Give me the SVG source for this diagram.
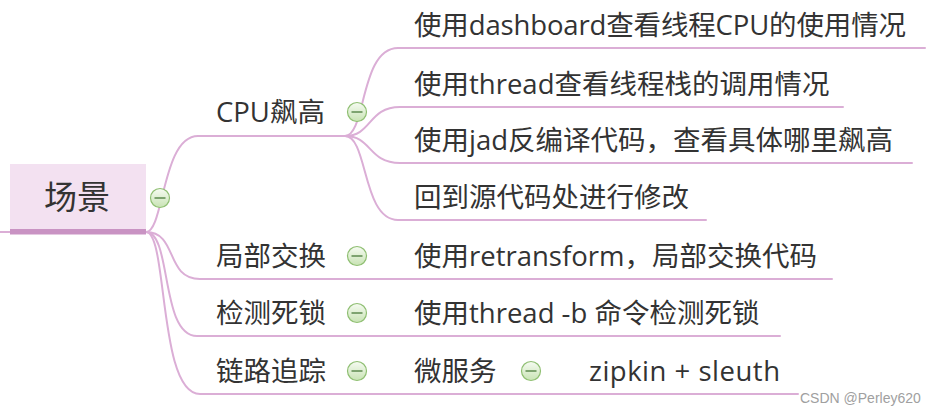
<svg xmlns="http://www.w3.org/2000/svg" width="935" height="413" viewBox="0 0 935 413">
<style>
  .t { font-family: "Open Sans", "Noto Sans CJK SC", sans-serif; font-size: 27.5px; fill: #333333; }
  .root { font-family: "Open Sans", "Noto Sans CJK SC", sans-serif; font-size: 33px; fill: #333333; }
  .c { fill: none; stroke: #dbaed6; stroke-width: 2; stroke-linecap: round; }
  .btn circle { fill: url(#g); stroke: #8fbf72; stroke-width: 1.2; }
  .btn line { stroke: #4a7a3a; stroke-width: 1.3; }
  .wm { font-family: "Liberation Sans", Arial, sans-serif; font-size: 14px; fill: #a0a0a0; }
</style>
<defs>
  <linearGradient id="g" x1="0" y1="0" x2="0" y2="1">
    <stop offset="0" stop-color="#f6fbf2"/>
    <stop offset="1" stop-color="#c8e3b4"/>
  </linearGradient>
  <g id="minus" class="btn">
    <circle cx="0" cy="0" r="9.5"/>
    <line x1="-5.5" y1="0" x2="5.5" y2="0"/>
  </g>
</defs>
<rect width="935" height="413" fill="#ffffff"/>
<g id="connectors">
  <path class="c" d="M0,232 H10"/>
  <path class="c" d="M146,232 C164,232 162,136 198,136 H345"/>
  <path class="c" d="M146,232 C178,232 165,279 200,279 H832"/>
  <path class="c" d="M146,232 C172,232 160,336 197,336 H780"/>
  <path class="c" d="M146,232 C168,232 158,394 200,394 H798"/>
  <path class="c" d="M345,136 C366,136 360,48 398,48 H925"/>
  <path class="c" d="M345,136 C372,136 368,107 400,107 H843"/>
  <path class="c" d="M345,136 C372,136 368,163 400,163 H912"/>
  <path class="c" d="M345,136 C368,136 362,220 398,220 H706"/>
</g>
<g id="root">
  <rect x="10" y="164" width="136" height="70" fill="#f3e1f1"/>
  <rect x="10" y="229" width="136" height="5.5" fill="#c993c3"/>
  <text class="root" x="77" y="209" text-anchor="middle">场景</text>
  <use href="#minus" x="160" y="198"/>
</g>
<g id="cpu">
  <text class="t" x="216" y="122">CPU飙高</text>
  <use href="#minus" x="357" y="112"/>
</g>
<g id="cpu1"><text class="t" x="414" y="35" textLength="492" lengthAdjust="spacing">使用dashboard查看线程CPU的使用情况</text></g>
<g id="cpu2"><text class="t" x="414" y="94">使用thread查看线程栈的调用情况</text></g>
<g id="cpu3"><text class="t" x="414" y="150">使用jad反编译代码，查看具体哪里飙高</text></g>
<g id="cpu4"><text class="t" x="414" y="207">回到源代码处进行修改</text></g>
<g id="swap">
  <text class="t" x="216" y="266">局部交换</text>
  <use href="#minus" x="357" y="256"/>
</g>
<g id="swap1"><text class="t" x="414" y="266">使用retransform，局部交换代码</text></g>
<g id="deadlock">
  <text class="t" x="216" y="323">检测死锁</text>
  <use href="#minus" x="357" y="313"/>
</g>
<g id="deadlock1"><text class="t" x="414" y="323">使用thread -b 命令检测死锁</text></g>
<g id="trace">
  <text class="t" x="216" y="381">链路追踪</text>
  <use href="#minus" x="357" y="371"/>
</g>
<g id="micro">
  <text class="t" x="414" y="381">微服务</text>
  <use href="#minus" x="531" y="371"/>
</g>
<g id="zipkin"><text class="t" x="589" y="381" textLength="191" lengthAdjust="spacing">zipkin + sleuth</text></g>
<text class="wm" x="800" y="403">CSDN @Perley620</text>
</svg>
